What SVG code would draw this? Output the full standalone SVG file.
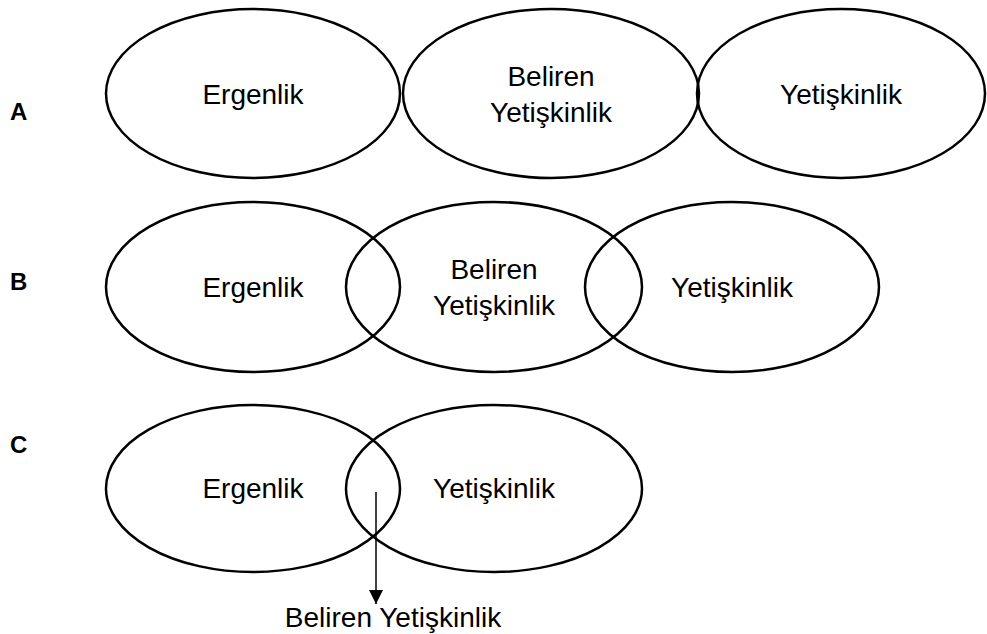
<svg xmlns="http://www.w3.org/2000/svg" width="987" height="634" viewBox="0 0 987 634">
  <style>
    .stage { fill: none; stroke: #000; stroke-width: 2.5; }
    .lbl { font-family: "Liberation Sans", Arial, sans-serif; font-size: 28px; fill: #000; text-anchor: middle; }
    .row { font-family: "Liberation Sans", Arial, sans-serif; font-size: 24px; font-weight: bold; fill: #000; }
    .conn { stroke: #000; stroke-width: 1.5; fill: none; }
  </style>
  <defs>
    <!-- filled triangular head, tip at the end of the line -->
    <marker id="arrowhead" markerWidth="14" markerHeight="14" refX="0" refY="0" orient="auto" markerUnits="userSpaceOnUse" viewBox="-14 -7 14 14">
      <polygon points="-14,-7 -14,7 0,0" fill="#000"/>
    </marker>
  </defs>
  <rect width="987" height="634" fill="#fff"/>

  <!-- Row labels -->
  <g id="row-labels">
    <text class="row" x="10" y="120">A</text>
    <text class="row" x="10" y="290">B</text>
    <text class="row" x="10" y="453">C</text>
  </g>

  <!-- Row A: separate stages -->
  <g id="a-ergenlik">
    <ellipse class="stage" cx="253" cy="93.5" rx="147" ry="84.5"/>
    <text class="lbl" x="253" y="103.5">Ergenlik</text>
  </g>
  <g id="a-beliren">
    <ellipse class="stage" cx="551" cy="93.5" rx="148" ry="84.5"/>
    <text class="lbl" x="551" y="86">Beliren</text>
    <text class="lbl" x="551" y="122">Yetişkinlik</text>
  </g>
  <g id="a-yetiskinlik">
    <ellipse class="stage" cx="841" cy="93.5" rx="144" ry="84.5"/>
    <text class="lbl" x="841" y="103.5">Yetişkinlik</text>
  </g>

  <!-- Row B: overlapping stages -->
  <g id="b-ergenlik">
    <ellipse class="stage" cx="253" cy="287" rx="147" ry="85"/>
    <text class="lbl" x="253" y="297">Ergenlik</text>
  </g>
  <g id="b-beliren">
    <ellipse class="stage" cx="494" cy="287" rx="148" ry="85"/>
    <text class="lbl" x="494" y="279">Beliren</text>
    <text class="lbl" x="494" y="315">Yetişkinlik</text>
  </g>
  <g id="b-yetiskinlik">
    <ellipse class="stage" cx="732" cy="287" rx="147" ry="85"/>
    <text class="lbl" x="732" y="297">Yetişkinlik</text>
  </g>

  <!-- Row C: emerging adulthood as the overlap -->
  <g id="c-ergenlik">
    <ellipse class="stage" cx="253" cy="488.5" rx="147" ry="83.5"/>
    <text class="lbl" x="253" y="498">Ergenlik</text>
  </g>
  <g id="c-yetiskinlik">
    <ellipse class="stage" cx="494" cy="488.5" rx="148" ry="83.5"/>
    <text class="lbl" x="494" y="498">Yetişkinlik</text>
  </g>
  <g id="c-beliren">
    <text class="lbl" x="393" y="627">Beliren Yetişkinlik</text>
  </g>

  <!-- Connectors -->
  <g id="connectors">
    <line class="conn" x1="376" y1="492" x2="376" y2="604" marker-end="url(#arrowhead)"/>
  </g>
</svg>
